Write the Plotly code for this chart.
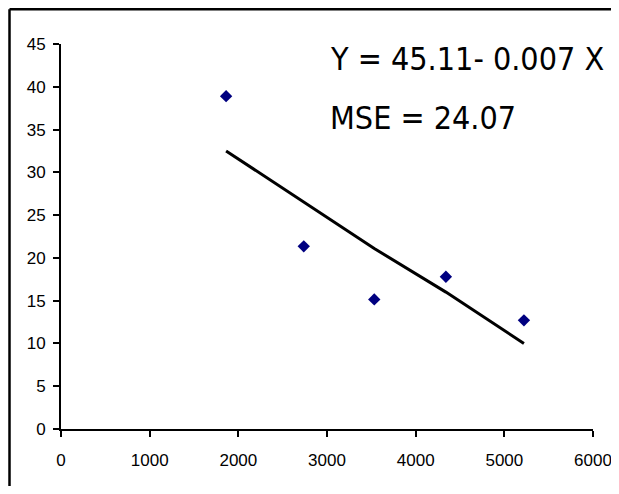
import plotly.graph_objects as go

# Data
x_vals = [1862, 2738, 3533, 4341, 5221]
y_vals = [38.9, 21.35, 15.15, 17.8, 12.7]
fitted_vals = [32.5, 26.5, 21.1, 16.0, 10.0]
x_ticks = [0, 1000, 2000, 3000, 4000, 5000, 6000]
y_ticks = [0, 5, 10, 15, 20, 25, 30, 35, 40, 45]
equation_text = "Y = 45.11- 0.007 X"
mse_text = "MSE = 24.07"

# The page body has an 8px margin on every side; keep the figure inside the
# window (no scrollbars) and work in screen pixels.
OFF = 8
W, H = 619 - 2 * OFF, 494 - 2 * OFF
plot_left, plot_right = 61 - OFF, 593 - OFF
plot_top, plot_bottom = 44 - OFF, 429 - OFF
L, R, T, B = plot_left, W - plot_right, plot_top, H - plot_bottom

tick_font = dict(family="Liberation Sans, Arial", size=17, color="black")
text_font = dict(family="DejaVu Sans Condensed, DejaVu Sans, Tahoma, Verdana", size=32, color="black")

fig = go.Figure()
fig.add_trace(go.Scatter(
    x=x_vals, y=fitted_vals, mode="lines",
    line=dict(color="black", width=3), hoverinfo="skip", showlegend=False))
fig.add_trace(go.Scatter(
    x=x_vals, y=y_vals, mode="markers",
    marker=dict(symbol="diamond", size=9.5, color="#000080", line=dict(width=0)),
    showlegend=False))

fig.update_xaxes(
    range=[0, 6000], tickvals=x_ticks, ticktext=[str(v) for v in x_ticks],
    showgrid=False, zeroline=False, showline=True, linecolor="black", linewidth=2,
    ticks="outside", ticklen=6, tickwidth=1.5, tickcolor="black",
    tickfont=tick_font, ticklabelstandoff=9, ticklabeloverflow="allow")
fig.update_yaxes(
    range=[0, 45], tickvals=y_ticks, ticktext=[str(v) for v in y_ticks],
    showgrid=False, zeroline=False, showline=True, linecolor="black", linewidth=2,
    ticks="outside", ticklen=6, tickwidth=1.5, tickcolor="black",
    tickfont=tick_font, ticklabelstandoff=4, ticklabeloverflow="allow")

pw = W - L - R
ph = H - T - B
def sx(px):
    # screen x pixel -> paper coordinate
    return (px - OFF - L) / pw
def sy(py):
    # screen y pixel -> paper coordinate
    return (H - B - (py - OFF)) / ph

# Outer frame (left and top edges visible in the reference)
fig.add_shape(type="line", xref="paper", yref="paper",
              x0=sx(9.5), x1=sx(9.5), y0=sy(9.2), y1=sy(494 + 10),
              line=dict(color="black", width=2.5))
fig.add_shape(type="line", xref="paper", yref="paper",
              x0=sx(9.5), x1=sx(619 + 10), y0=sy(9.2), y1=sy(9.2),
              line=dict(color="black", width=2.5))

fig.add_annotation(x=sx(328), y=sy(59), xref="paper", yref="paper",
                   text=equation_text, showarrow=False, xanchor="left", yanchor="middle",
                   font=text_font)
fig.add_annotation(x=sx(328), y=sy(117.5), xref="paper", yref="paper",
                   text=mse_text, showarrow=False, xanchor="left", yanchor="middle",
                   font=text_font)

fig.update_layout(
    width=W, height=H, margin=dict(l=L, r=R, t=T, b=B, autoexpand=False),
    paper_bgcolor="white", plot_bgcolor="white", showlegend=False)

fig.write_html("out.html")
